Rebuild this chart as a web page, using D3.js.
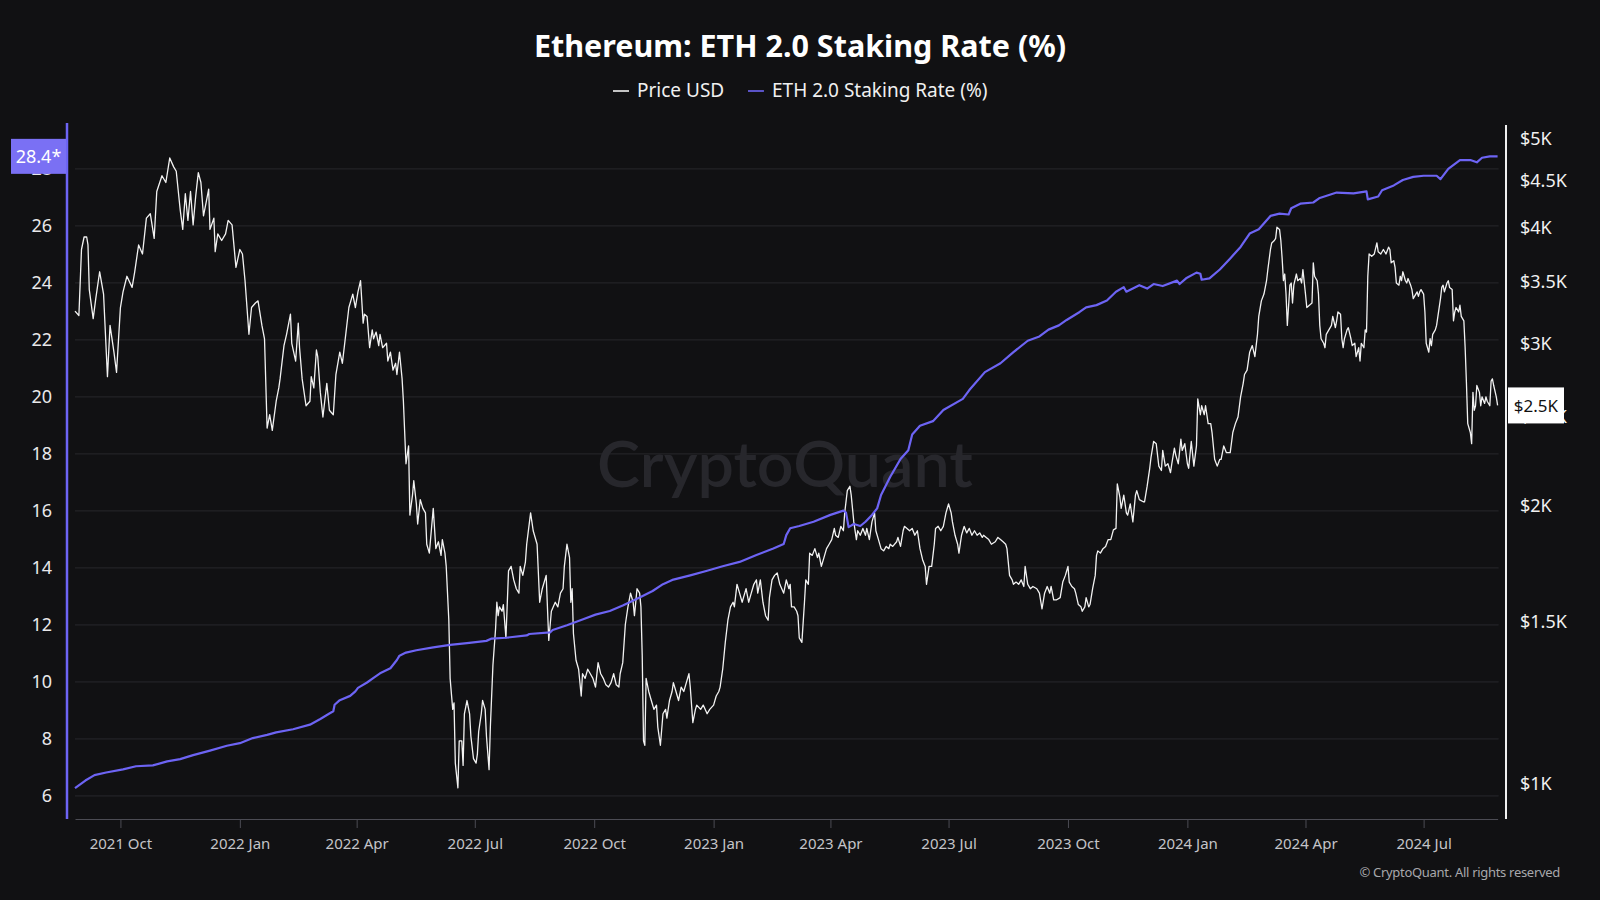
<!DOCTYPE html>
<html><head><meta charset="utf-8">
<script src="https://cdn.jsdelivr.net/npm/d3@7"></script>
<style>
html,body{margin:0;padding:0;background:#111113;}
svg{display:block;}
</style></head>
<body>
<svg id="chart" width="1600" height="900"></svg>
<script>
// ---------------- DATA ----------------
const chartTitle = "Ethereum: ETH 2.0 Staking Rate (%)";
const seriesNames = ["Price USD", "ETH 2.0 Staking Rate (%)"];

const priceDates = [
"2021-08-27","2021-08-30","2021-09-01","2021-09-03","2021-09-05","2021-09-06","2021-09-07","2021-09-10","2021-09-12","2021-09-15","2021-09-18","2021-09-21","2021-09-23","2021-09-26","2021-09-28",
"2021-10-01","2021-10-03","2021-10-06","2021-10-10","2021-10-12","2021-10-15","2021-10-18","2021-10-21","2021-10-24","2021-10-27","2021-10-29",
"2021-11-02","2021-11-05","2021-11-08","2021-11-11","2021-11-13","2021-11-16","2021-11-18","2021-11-20","2021-11-22","2021-11-24","2021-11-26","2021-11-28","2021-11-30",
"2021-12-02","2021-12-04","2021-12-06","2021-12-08","2021-12-09","2021-12-12","2021-12-13","2021-12-15","2021-12-18","2021-12-21","2021-12-23","2021-12-26","2021-12-29",
"2022-01-01","2022-01-03","2022-01-05","2022-01-08","2022-01-10","2022-01-13","2022-01-15","2022-01-18","2022-01-20","2022-01-22","2022-01-24","2022-01-26","2022-01-29","2022-01-31",
"2022-02-01","2022-02-04","2022-02-06","2022-02-09","2022-02-10","2022-02-13","2022-02-15","2022-02-16","2022-02-18","2022-02-21","2022-02-24","2022-02-25","2022-02-27",
"2022-03-01","2022-03-02","2022-03-04","2022-03-06","2022-03-09","2022-03-11","2022-03-14","2022-03-16","2022-03-19","2022-03-21","2022-03-24","2022-03-26","2022-03-29","2022-03-31",
"2022-04-02","2022-04-04","2022-04-06","2022-04-07","2022-04-09","2022-04-11","2022-04-13","2022-04-14","2022-04-16","2022-04-18","2022-04-19","2022-04-21","2022-04-24","2022-04-25","2022-04-27","2022-04-29",
"2022-05-01","2022-05-02","2022-05-04","2022-05-06","2022-05-07","2022-05-09","2022-05-11","2022-05-12","2022-05-14","2022-05-15","2022-05-17","2022-05-18","2022-05-20","2022-05-22","2022-05-24","2022-05-25","2022-05-27","2022-05-30",
"2022-06-01","2022-06-03","2022-06-05","2022-06-06","2022-06-08","2022-06-09","2022-06-11","2022-06-12","2022-06-14","2022-06-15","2022-06-16","2022-06-18","2022-06-19","2022-06-21","2022-06-22","2022-06-23","2022-06-25","2022-06-27","2022-06-28","2022-06-30",
"2022-07-02","2022-07-03","2022-07-04","2022-07-06","2022-07-07","2022-07-09","2022-07-10","2022-07-12","2022-07-13","2022-07-15","2022-07-17","2022-07-18","2022-07-19","2022-07-20","2022-07-22","2022-07-23","2022-07-25","2022-07-27","2022-07-29","2022-07-31",
"2022-08-02","2022-08-04","2022-08-05","2022-08-07","2022-08-09","2022-08-10","2022-08-13","2022-08-15","2022-08-18","2022-08-20","2022-08-22","2022-08-25","2022-08-27","2022-08-29",
"2022-09-01","2022-09-03","2022-09-05","2022-09-07","2022-09-08","2022-09-10","2022-09-12","2022-09-13","2022-09-14","2022-09-15","2022-09-17","2022-09-19","2022-09-21","2022-09-22","2022-09-24","2022-09-26","2022-09-28","2022-09-30",
"2022-10-02","2022-10-04","2022-10-06","2022-10-08","2022-10-10","2022-10-12","2022-10-14","2022-10-16","2022-10-18","2022-10-20","2022-10-21","2022-10-23","2022-10-25","2022-10-27","2022-10-29","2022-10-31",
"2022-11-01","2022-11-03","2022-11-05","2022-11-06","2022-11-07","2022-11-08","2022-11-09","2022-11-10","2022-11-12","2022-11-14","2022-11-16","2022-11-18","2022-11-19","2022-11-21","2022-11-23","2022-11-25","2022-11-26","2022-11-28","2022-11-30",
"2022-12-01","2022-12-03","2022-12-05","2022-12-07","2022-12-09","2022-12-11","2022-12-13","2022-12-14","2022-12-16","2022-12-18","2022-12-19","2022-12-22","2022-12-24","2022-12-27","2022-12-29",
"2023-01-01","2023-01-03","2023-01-05","2023-01-06","2023-01-08","2023-01-10","2023-01-12","2023-01-14","2023-01-16","2023-01-17","2023-01-19","2023-01-21","2023-01-23","2023-01-24","2023-01-26","2023-01-28","2023-01-30",
"2023-02-01","2023-02-03","2023-02-04","2023-02-06","2023-02-08","2023-02-10","2023-02-12","2023-02-13","2023-02-15","2023-02-17","2023-02-19","2023-02-21","2023-02-24","2023-02-26","2023-02-28",
"2023-03-01","2023-03-02","2023-03-04","2023-03-06","2023-03-07","2023-03-08","2023-03-10","2023-03-12","2023-03-13","2023-03-15","2023-03-16","2023-03-18","2023-03-20","2023-03-22","2023-03-23","2023-03-25","2023-03-27","2023-03-29","2023-03-31",
"2023-04-02","2023-04-04","2023-04-05","2023-04-07","2023-04-09","2023-04-11","2023-04-12","2023-04-14","2023-04-16","2023-04-17","2023-04-19","2023-04-21","2023-04-22","2023-04-24","2023-04-26","2023-04-28","2023-04-29",
"2023-05-01","2023-05-03","2023-05-05","2023-05-06","2023-05-08","2023-05-10","2023-05-12","2023-05-14","2023-05-16","2023-05-17","2023-05-19","2023-05-22","2023-05-23","2023-05-25","2023-05-27","2023-05-28","2023-05-30",
"2023-06-01","2023-06-03","2023-06-05","2023-06-07","2023-06-09","2023-06-11","2023-06-13","2023-06-14","2023-06-16","2023-06-18","2023-06-20","2023-06-21","2023-06-23","2023-06-25","2023-06-27","2023-06-29",
"2023-07-01","2023-07-03","2023-07-04","2023-07-06","2023-07-08","2023-07-09","2023-07-11","2023-07-13","2023-07-15","2023-07-17","2023-07-19","2023-07-21","2023-07-23","2023-07-25","2023-07-27","2023-07-28","2023-07-30",
"2023-08-01","2023-08-03","2023-08-06","2023-08-08","2023-08-10","2023-08-12","2023-08-14","2023-08-15","2023-08-17","2023-08-19","2023-08-20","2023-08-22","2023-08-24","2023-08-26","2023-08-28","2023-08-29","2023-08-31",
"2023-09-02","2023-09-04","2023-09-07","2023-09-09","2023-09-11","2023-09-13","2023-09-15","2023-09-17","2023-09-18","2023-09-20","2023-09-22","2023-09-25","2023-09-27","2023-09-29",
"2023-10-01","2023-10-02","2023-10-04","2023-10-06","2023-10-07","2023-10-09","2023-10-11","2023-10-12","2023-10-14","2023-10-15","2023-10-17","2023-10-18","2023-10-20","2023-10-22","2023-10-23","2023-10-24","2023-10-26","2023-10-28","2023-10-30",
"2023-11-01","2023-11-03","2023-11-05","2023-11-07","2023-11-08","2023-11-10","2023-11-11","2023-11-13","2023-11-15","2023-11-16","2023-11-18","2023-11-19","2023-11-20","2023-11-22","2023-11-23","2023-11-25","2023-11-28","2023-11-29",
"2023-12-01","2023-12-02","2023-12-03","2023-12-04","2023-12-06","2023-12-08","2023-12-10","2023-12-12","2023-12-13","2023-12-15","2023-12-17","2023-12-19","2023-12-20","2023-12-22","2023-12-23","2023-12-25","2023-12-27","2023-12-28","2023-12-30",
"2024-01-01","2024-01-02","2024-01-04","2024-01-06","2024-01-08","2024-01-09","2024-01-11","2024-01-12","2024-01-14","2024-01-15","2024-01-17","2024-01-19","2024-01-20","2024-01-22","2024-01-24","2024-01-26","2024-01-27","2024-01-29","2024-01-31",
"2024-02-02","2024-02-03","2024-02-05","2024-02-07","2024-02-09","2024-02-11","2024-02-13","2024-02-14","2024-02-16","2024-02-18","2024-02-20","2024-02-22","2024-02-24","2024-02-25","2024-02-27","2024-02-29",
"2024-03-02","2024-03-03","2024-03-05","2024-03-06","2024-03-08","2024-03-09","2024-03-10","2024-03-12","2024-03-13","2024-03-14","2024-03-15","2024-03-16","2024-03-17","2024-03-18","2024-03-20","2024-03-21","2024-03-22","2024-03-23","2024-03-25","2024-03-26","2024-03-28","2024-03-29","2024-03-30",
"2024-04-01","2024-04-02","2024-04-04","2024-04-06","2024-04-07","2024-04-08","2024-04-10","2024-04-11","2024-04-12","2024-04-13","2024-04-15","2024-04-16","2024-04-17","2024-04-19","2024-04-21","2024-04-22","2024-04-24","2024-04-25","2024-04-26","2024-04-28","2024-04-29","2024-04-30",
"2024-05-01","2024-05-03","2024-05-04","2024-05-06","2024-05-07","2024-05-09","2024-05-10","2024-05-12","2024-05-13","2024-05-14","2024-05-16","2024-05-17","2024-05-18","2024-05-19","2024-05-20","2024-05-22","2024-05-24","2024-05-26","2024-05-27","2024-05-29","2024-05-30","2024-05-31",
"2024-06-02","2024-06-04","2024-06-05","2024-06-06","2024-06-08","2024-06-09","2024-06-10","2024-06-12","2024-06-13","2024-06-14","2024-06-15","2024-06-17","2024-06-18","2024-06-19","2024-06-21","2024-06-22","2024-06-23","2024-06-24","2024-06-26","2024-06-27","2024-06-28","2024-06-29",
"2024-07-01","2024-07-02","2024-07-03","2024-07-05","2024-07-06","2024-07-07","2024-07-08","2024-07-10","2024-07-11","2024-07-12","2024-07-14","2024-07-15","2024-07-16","2024-07-17","2024-07-19","2024-07-20","2024-07-21","2024-07-23","2024-07-24","2024-07-25","2024-07-26","2024-07-28","2024-07-29","2024-07-30",
"2024-08-01","2024-08-02","2024-08-03","2024-08-04","2024-08-06","2024-08-07","2024-08-08","2024-08-09","2024-08-10","2024-08-11","2024-08-13","2024-08-14","2024-08-15","2024-08-17","2024-08-18","2024-08-19","2024-08-21","2024-08-22","2024-08-23","2024-08-24","2024-08-26","2024-08-27"
];
const priceValues = [
3252,3216,3792,3912,3912,3835,3431,3191,3355,3587,3393,2761,3138,2935,2791,
3281,3412,3547,3450,3587,3835,3750,4100,4146,3899,4383,
4558,4482,4765,4660,4609,4192,3987,4358,4077,4383,4032,4334,4593,
4482,4123,4262,4407,3987,4100,3771,3943,3878,3943,4077,4032,3627,
3792,3750,3508,3069,3281,3318,3336,3138,3035,2429,2511,2415,2597,2685,
2746,2984,3069,3227,3001,2871,3156,2968,2746,2568,2597,2761,2685,
2951,2903,2655,2497,2716,2539,2511,2776,2935,2855,3103,3281,3393,3281,
3412,3508,3156,3227,3209,2968,3103,3035,3086,2984,3069,2968,3001,2871,2935,2807,
2855,2776,2935,2746,2597,2222,2323,1955,2055,2130,2010,1912,2032,1988,1966,1818,1778,1988,
1798,1829,1768,1839,1778,1720,1504,1301,1204,1224,1053,990,1113,1113,1047,1191,1231,1191,1126,1065,
1053,1077,1139,1191,1231,1204,1126,1036,1152,1346,1471,1573,1521,1555,1538,1564,1439,1701,1720,1663,
1627,1609,1720,1682,1739,1818,1966,1880,1818,1573,1627,1682,1430,1538,
1573,1555,1609,1627,1720,1818,1758,1573,1627,1455,1361,1331,1245,1316,1301,1331,1316,1301,
1273,1353,1316,1301,1280,1273,1287,1316,1280,1273,1316,1353,1488,1555,1609,1573,
1521,1627,1609,1555,1376,1113,1101,1301,1259,1231,1204,1217,1152,1101,1191,1204,1178,1231,1259,
1287,1259,1231,1273,1259,1287,1316,1273,1165,1204,1217,1204,1217,1191,1204,
1217,1245,1259,1273,1331,1423,1504,1555,1573,1555,1645,1609,1573,1591,1627,1573,1609,
1645,1663,1609,1663,1573,1521,1504,1591,1663,1682,1692,1645,1609,1663,1627,
1645,1555,1555,1538,1521,1439,1423,1573,1663,1645,1778,1768,1798,1758,1778,1720,1758,1798,1818,
1839,1891,1859,1849,1901,1880,1966,2078,2101,2055,1922,1839,1880,1859,1891,1859,1891,
1839,1922,1966,1880,1839,1798,1788,1808,1798,1818,1808,1829,1849,1808,1880,1901,1891,
1880,1891,1859,1880,1798,1749,1720,1645,1720,1720,1818,1891,1901,1880,1901,1966,
2010,1966,1922,1859,1818,1778,1859,1901,1870,1891,1859,1880,1859,1870,1849,1859,1849,
1839,1818,1829,1849,1839,1829,1818,1798,1682,1663,1645,1654,1645,1663,1636,1720,1645,
1627,1636,1627,1609,1547,1609,1636,1609,1636,1582,1582,1591,1654,1682,
1720,1654,1636,1627,1609,1564,1555,1538,1555,1591,1555,1564,1627,1682,1768,1788,1778,1798,1808,
1839,1839,1884,1891,2113,2044,1988,2055,1966,1955,2010,1966,1922,2055,2078,2032,2021,2021,
2101,2149,2197,2259,2349,2336,2209,2185,2297,2209,2222,2173,2222,2310,2272,2222,2362,2297,2336,
2222,2197,2349,2209,2323,2612,2511,2568,2511,2568,2456,2456,2402,2247,2209,2247,2247,2323,2285,
2285,2285,2402,2456,2497,2626,2716,2776,2807,2935,2984,2903,3069,3209,3336,3393,
3508,3607,3792,3854,3878,3899,4009,3987,3878,3709,3508,3567,3393,3138,3469,3488,3318,3469,3567,3508,3527,3488,3607,
3393,3281,3300,3318,3668,3547,3508,3393,3138,3035,3001,2968,3069,3103,3138,3209,3120,3174,3245,3227,3035,2968,
3035,3103,3120,3035,2984,3001,2903,2968,2871,3001,2968,3103,3086,3547,3750,3729,3750,3856,3771,3750,3771,3792,
3750,3814,3792,3668,3688,3627,3488,3469,3547,3508,3587,3508,3488,3527,3469,3431,3355,3374,3412,3374,3412,3431,
3393,3245,3001,2935,3035,2984,3069,3103,3138,3209,3355,3450,3469,3412,3488,3508,3450,3431,3174,3245,3281,3245,3300,3209,
3174,2968,2716,2456,2402,2336,2655,2539,2568,2701,2655,2568,2626,2583,2626,2597,2568,2731,2746,2701,2626,2570
];

const stakeDates = [
"2021-08-27","2021-09-04","2021-09-11","2021-09-20","2021-10-03","2021-10-13","2021-10-26","2021-11-06","2021-11-16","2021-11-26","2021-12-09","2021-12-22",
"2022-01-01","2022-01-11","2022-01-22","2022-01-29","2022-02-11","2022-02-24","2022-03-04","2022-03-11","2022-03-14","2022-03-15","2022-03-19","2022-03-27","2022-03-31","2022-04-02","2022-04-09","2022-04-14","2022-04-19","2022-04-27","2022-05-02","2022-05-04","2022-05-09","2022-05-17","2022-05-30","2022-06-12","2022-06-25","2022-07-10","2022-07-14","2022-07-25","2022-08-10","2022-08-12","2022-08-28","2022-08-30","2022-09-10","2022-09-23","2022-10-02","2022-10-13","2022-10-23","2022-11-05","2022-11-15","2022-11-23","2022-12-01","2022-12-14","2022-12-27",
"2023-01-08","2023-01-21","2023-02-03","2023-02-16","2023-02-24","2023-02-26","2023-03-01","2023-03-08","2023-03-19","2023-04-01","2023-04-11","2023-04-13","2023-04-15","2023-04-19","2023-04-24","2023-04-28","2023-05-03","2023-05-07","2023-05-10","2023-05-17","2023-05-25","2023-05-31","2023-06-03","2023-06-09","2023-06-19","2023-06-27","2023-07-12","2023-07-17","2023-07-29","2023-08-10","2023-08-20","2023-08-31","2023-09-09","2023-09-16","2023-09-24","2023-09-30","2023-10-10","2023-10-15","2023-10-23","2023-10-31","2023-11-07","2023-11-13","2023-11-15","2023-11-25","2023-12-01","2023-12-06","2023-12-13","2023-12-24","2023-12-26","2023-12-31",
"2024-01-08","2024-01-11","2024-01-12","2024-01-18","2024-01-26","2024-02-03","2024-02-11","2024-02-18","2024-02-25","2024-03-05","2024-03-12","2024-03-19","2024-03-21","2024-03-28","2024-04-07","2024-04-12","2024-04-25","2024-05-08","2024-05-18","2024-05-19","2024-05-27","2024-05-30","2024-06-08","2024-06-15","2024-06-23","2024-07-01","2024-07-11","2024-07-14","2024-07-20","2024-07-29","2024-08-06","2024-08-11","2024-08-15","2024-08-21","2024-08-27"
];
const stakeValues = [
6.27,6.54,6.73,6.82,6.93,7.04,7.07,7.21,7.29,7.43,7.59,7.76,
7.85,8.03,8.14,8.23,8.34,8.50,8.70,8.89,8.97,9.20,9.36,9.51,9.67,9.79,9.98,10.14,10.30,10.48,10.77,10.92,11.03,11.11,11.21,11.30,11.36,11.44,11.52,11.55,11.63,11.68,11.74,11.82,11.99,12.21,12.36,12.49,12.68,12.96,13.19,13.43,13.59,13.74,13.90,
14.06,14.21,14.45,14.68,14.84,15.15,15.39,15.47,15.62,15.86,16.01,15.94,15.43,15.54,15.47,15.62,15.86,16.09,16.56,17.19,17.82,18.13,18.68,18.99,19.15,19.54,19.93,20.24,20.87,21.18,21.57,21.97,22.12,22.36,22.51,22.70,22.98,23.14,23.22,23.38,23.69,23.85,23.69,23.92,23.80,23.96,23.89,24.08,23.96,24.16,
24.36,24.32,24.11,24.16,24.47,24.86,25.26,25.73,25.88,26.35,26.43,26.40,26.62,26.78,26.82,26.98,27.17,27.14,27.21,26.93,27.03,27.25,27.42,27.61,27.72,27.76,27.76,27.64,28.00,28.31,28.31,28.23,28.39,28.44,28.44
];

const stakeTicks = [6, 8, 10, 12, 14, 16, 18, 20, 22, 24, 26, 28];
const priceTicks = [1000, 1500, 2000, 2500, 3000, 3500, 4000, 4500, 5000];
const priceTickLabels = ["$1K", "$1.5K", "$2K", "$2.5K", "$3K", "$3.5K", "$4K", "$4.5K", "$5K"];
const stakeDomain = [5.19, 29.54];
const priceDomain = [916, 5173];

// ---------------- LAYOUT ----------------
const W = 1600, H = 900;
const plotLeft = 75, plotRight = 1497.6, plotTop = 125, plotBottom = 819;
const leftAxisX = 67, rightAxisX = 1506;
const BG = "#111113", PURPLE = "#6d64f4", BOX_PURPLE = "#7a70f4";
const FONT = "'Noto Sans','Open Sans','DejaVu Sans',sans-serif";

const svg = d3.select("#chart");
svg.append("rect").attr("width", W).attr("height", H).attr("fill", BG);

const parse = d3.utcParse("%Y-%m-%d");
const price = priceDates.slice(0, Math.min(priceDates.length, priceValues.length))
  .map((d, i) => ({ date: parse(d), value: priceValues[i] }));
const stake = stakeDates.slice(0, Math.min(stakeDates.length, stakeValues.length))
  .map((d, i) => ({ date: parse(d), value: stakeValues[i] }));

const x = d3.scaleUtc()
  .domain(d3.extent(price, d => d.date))
  .range([plotLeft, plotRight]);
const yS = d3.scaleLinear().domain(stakeDomain).range([plotBottom, plotTop]);
const yP = d3.scaleLog().domain(priceDomain).range([plotBottom, plotTop]);

// Gridlines
svg.append("g").selectAll("line").data(stakeTicks).join("line")
  .attr("x1", plotLeft).attr("x2", plotRight + 1)
  .attr("y1", d => yS(d)).attr("y2", d => yS(d))
  .attr("stroke", "#28282c").attr("stroke-width", 1);

// Watermark
svg.append("text")
  .attr("x", 785).attr("y", 487)
  .attr("text-anchor", "middle")
  .attr("font-family", "Lato, Inter, sans-serif")
  .attr("font-weight", 600)
  .attr("font-size", 64)
  .attr("textLength", 376).attr("lengthAdjust", "spacingAndGlyphs")
  .attr("fill", "#27272c")
  .text("CryptoQuant");

// X axis
const xAxis = d3.axisBottom(x)
  .ticks(d3.utcMonth.filter(d => d.getUTCMonth() % 3 === 0))
  .tickFormat(d3.utcFormat("%Y %b"))
  .tickSize(9).tickSizeOuter(0).tickPadding(10);
const gx = svg.append("g").attr("transform", `translate(0,${plotBottom})`).call(xAxis);
gx.select(".domain").attr("stroke", "#4c4c54").attr("stroke-width", 1.2);
gx.selectAll(".tick line").attr("stroke", "#4c4c54");
gx.selectAll(".tick text").attr("fill", "#c4c4c8").attr("font-size", 15)
  .attr("font-family", FONT);

// Lines
const line = (yScale) => d3.line().x(d => x(d.date)).y(d => yScale(d.value)).curve(d3.curveLinear);
svg.append("path").datum(price)
  .attr("d", line(yP)).attr("fill", "none")
  .attr("stroke", "#f2f2f2").attr("stroke-width", 1.3).attr("stroke-linejoin", "round");
svg.append("path").datum(stake)
  .attr("d", line(yS)).attr("fill", "none")
  .attr("stroke", PURPLE).attr("stroke-width", 2.2).attr("stroke-linejoin", "round");

// Left axis
const gl = svg.append("g").attr("transform", `translate(52,0)`)
  .call(d3.axisLeft(yS).tickValues(stakeTicks).tickFormat(d3.format("d")).tickSize(0).tickPadding(0));
gl.select(".domain").remove();
gl.selectAll(".tick text").attr("fill", "#e8e8ea").attr("font-size", 18).attr("font-family", FONT);
svg.append("line").attr("x1", leftAxisX).attr("x2", leftAxisX)
  .attr("y1", plotTop - 2).attr("y2", plotBottom)
  .attr("stroke", PURPLE).attr("stroke-width", 2.5);

// Right axis
const gr = svg.append("g").attr("transform", `translate(1520,0)`)
  .call(d3.axisRight(yP).tickValues(priceTicks).tickFormat((d, i) => priceTickLabels[i]).tickSize(0).tickPadding(0));
gr.select(".domain").remove();
gr.selectAll(".tick text").attr("fill", "#f0f0f0").attr("font-size", 18).attr("font-family", FONT);
svg.append("line").attr("x1", rightAxisX).attr("x2", rightAxisX)
  .attr("y1", plotTop).attr("y2", plotBottom)
  .attr("stroke", "#f0f0f0").attr("stroke-width", 2);

// Current-value boxes (drawn over the axis labels, as in the source)
const lastStake = stake[stake.length - 1];
const lastPrice = price[price.length - 1];
const ys = yS(lastStake.value);
svg.append("rect").attr("x", 11).attr("y", ys - 17.5).attr("width", 55).attr("height", 35).attr("fill", BOX_PURPLE);
svg.append("text").attr("x", 38.5).attr("y", ys + 6.5).attr("text-anchor", "middle")
  .attr("fill", "#ffffff").attr("font-size", 18).attr("font-family", FONT)
  .text(d3.format(".1f")(Math.floor(lastStake.value * 10) / 10) + "*");
const yp = yP(lastPrice.value);
svg.append("rect").attr("x", 1508).attr("y", yp - 18).attr("width", 56).attr("height", 36).attr("fill", "#ffffff");
svg.append("text").attr("x", 1536).attr("y", yp + 6.5).attr("text-anchor", "middle")
  .attr("fill", "#111111").attr("font-size", 17).attr("font-family", FONT)
  .text("$" + (Math.floor(lastPrice.value / 100) / 10) + "K");

// Title
svg.append("text").attr("x", 800).attr("y", 57).attr("text-anchor", "middle")
  .attr("fill", "#ffffff").attr("font-size", 30.5).attr("font-weight", 700).attr("font-family", FONT)
  .text(chartTitle);

// Legend
const legend = svg.append("g");
const legendItems = [
  { name: seriesNames[0], color: "#f2f2f2", x0: 613 },
  { name: seriesNames[1], color: PURPLE, x0: 748 }
];
legendItems.forEach(it => {
  legend.append("line").attr("x1", it.x0).attr("x2", it.x0 + 16)
    .attr("y1", 91).attr("y2", 91).attr("stroke", it.color).attr("stroke-width", 1.6);
  legend.append("text").attr("x", it.x0 + 24).attr("y", 97)
    .attr("fill", "#f0f0f0").attr("font-size", 19).attr("font-family", FONT)
    .text(it.name);
});

// Footer
svg.append("text").attr("x", 1560).attr("y", 877).attr("text-anchor", "end")
  .attr("fill", "#a8a8ac").attr("font-size", 13).attr("letter-spacing", -0.3).attr("font-family", FONT)
  .text("© CryptoQuant. All rights reserved");
</script>
</body></html>
